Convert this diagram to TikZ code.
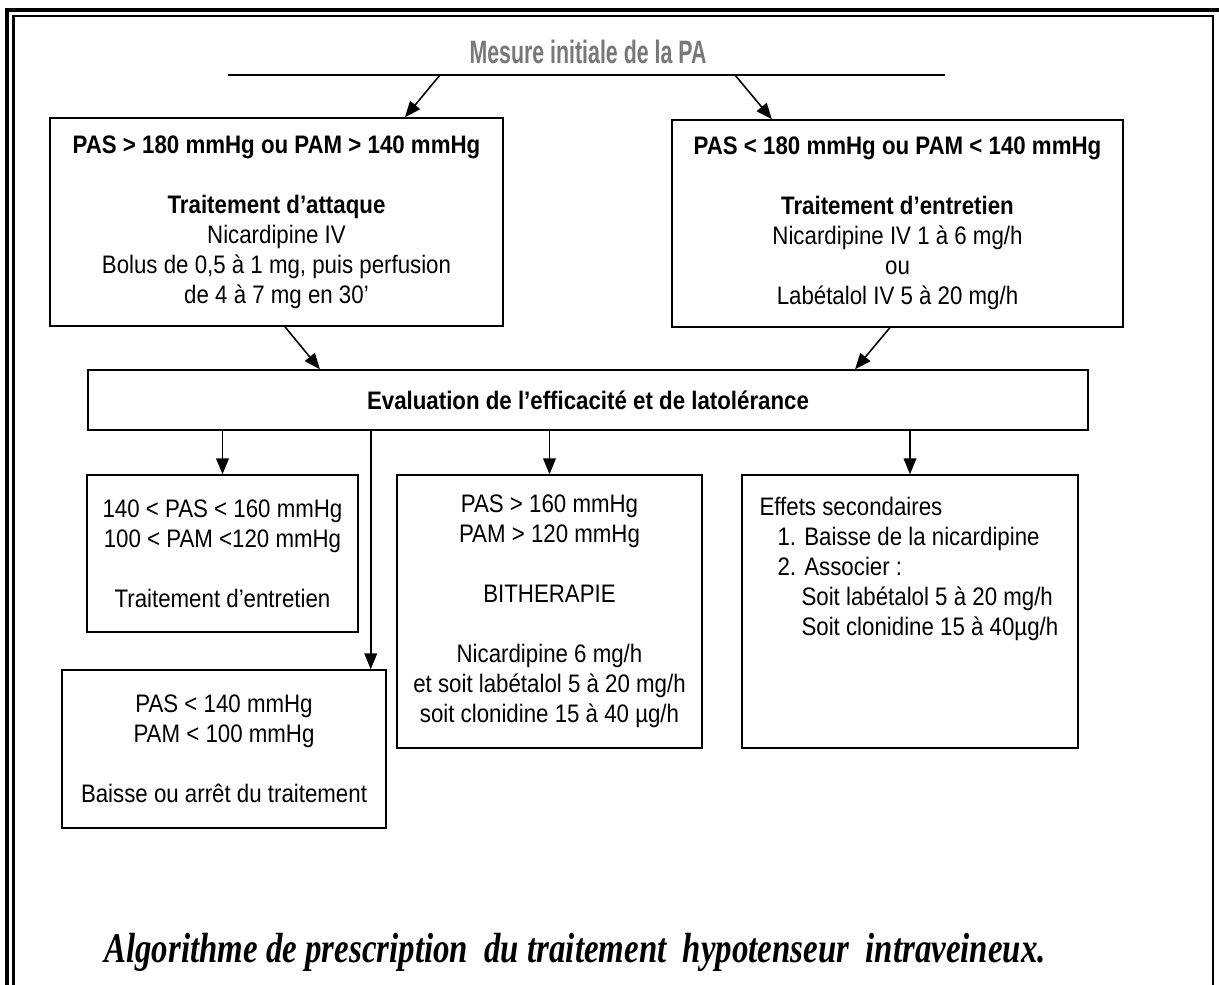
\documentclass[tikz,border=0pt]{standalone}
\usepackage{fontspec}
\setmainfont{Liberation Sans}[FakeStretch=0.88]
\newfontfamily\titlefont{Liberation Sans}[FakeStretch=0.66]
\newfontfamily\captionfont{Liberation Serif}[FakeStretch=0.78]
\usetikzlibrary{arrows.meta,positioning,calc}
\definecolor{titlegray}{RGB}{120,120,120}

\begin{document}
\begin{tikzpicture}[x=0.025cm,y=-0.025cm]
\tikzstyle{box}=[rectangle,draw=black,line width=1pt,inner sep=0pt,
align=center,font=\fontsize{18}{21.3}\selectfont]
\tikzstyle{arr}=[-{Triangle[length=4mm,width=3.2mm]},line width=1.1pt]
\useasboundingbox (0,0) rectangle (1219,985);
\fill[white] (0,0) rectangle (1219,985);
\draw[line width=2.2pt] (7,10) rectangle (1240,1010);
\draw[line width=1.8pt] (13.5,16) rectangle (1213,1005);

\node[text=titlegray,font=\titlefont\bfseries\fontsize{23}{27}\selectfont] (measure) at (588,52) {Mesure initiale de la PA};
\coordinate (ruleL) at (228,75);
\coordinate (ruleR) at (945,75);
\coordinate (splitL) at (440,75);
\coordinate (splitR) at (735,75);

\node[box,minimum width=11.325cm,minimum height=5.2cm] (attack) at (276.5,222)
{\textbf{PAS > 180 mmHg ou PAM > 140 mmHg}\\[\baselineskip]
\textbf{Traitement d’attaque}\\Nicardipine IV\\
Bolus de 0,5 à 1 mg, puis perfusion\\de 4 à 7 mg en 30'};
\node[box,minimum width=11.275cm,minimum height=5.175cm] (maint) at (897.5,223.5)
{\textbf{PAS < 180 mmHg ou PAM < 140 mmHg}\\[\baselineskip]
\textbf{Traitement d’entretien}\\Nicardipine IV 1 à 6 mg/h\\ou\\
Labétalol IV 5 à 20 mg/h};
\node[box,minimum width=25cm,minimum height=1.5cm] (eval) at (588,400)
{\textbf{Evaluation de l’efficacité et de latolérance}};

\node[box,minimum width=6.775cm,minimum height=3.925cm] (keep) at (222.5,553.5)
{140 < PAS < 160 mmHg\\100 < PAM <120 mmHg\\[\baselineskip]Traitement d'entretien};
\node[box,minimum width=8.1cm,minimum height=3.95cm] (lower) at (224,749)
{PAS < 140 mmHg\\PAM < 100 mmHg\\[\baselineskip]Baisse ou arrêt du traitement};
\node[box,minimum width=7.625cm,minimum height=6.825cm] (bither) at (549.5,611.5)
{PAS > 160 mmHg\\PAM > 120 mmHg\\[\baselineskip]BITHERAPIE\\[\baselineskip]
Nicardipine 6 mg/h\\et soit labétalol 5 à 20 mg/h\\soit clonidine 15 à 40 µg/h};
\node[box,minimum width=8.4cm,minimum height=6.825cm] (sidefx) at (910,611.5) {};
\node[anchor=north west,align=left,inner sep=0pt,font=\fontsize{18}{21.3}\selectfont]
(sidetxt) at ([xshift=0.45cm,yshift=-0.56cm]sidefx.north west)
{Effets secondaires\\
\hspace*{0.45cm}1. Baisse de la nicardipine\\
\hspace*{0.45cm}2. Associer :\\
\hspace*{1.05cm}Soit labétalol 5 à 20 mg/h\\
\hspace*{1.05cm}Soit clonidine 15 à 40µg/h};
\coordinate (lowIn) at ([xshift=-0.4cm]lower.north east);

\draw[line width=1.2pt] (ruleL) -- (ruleR);
\draw[arr] (splitL) -- ([xshift=3.21cm]attack.north);
\draw[arr] (splitR) -- ([xshift=-3.14cm]maint.north);
\draw[arr] ([xshift=0.21cm]attack.south) -- ([xshift=-6.7cm]eval.north);
\draw[arr] ([xshift=-0.19cm]maint.south) -- ([xshift=6.675cm]eval.north);
\draw[arr] (eval.south -| keep.north) -- (keep.north);
\draw[arr] (eval.south -| lowIn) -- (lowIn);
\draw[arr] (eval.south -| bither.north) -- (bither.north);
\draw[arr] (eval.south -| sidefx.north) -- (sidefx.north);

\node[font=\captionfont\bfseries\itshape\fontsize{30}{36}\selectfont] (caption) at (575,952)
{Algorithme de prescription\ \ du traitement\ \ hypotenseur\ \ intraveineux.};
\end{tikzpicture}
\end{document}
